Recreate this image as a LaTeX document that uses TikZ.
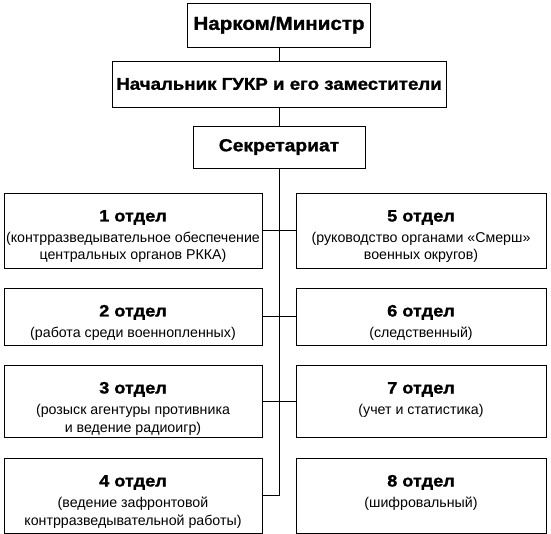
\documentclass[tikz,border=0pt]{standalone}
\usepackage{fontspec}
\setmainfont{Liberation Sans}
\newfontfamily\widefont[FakeStretch=1.1,BoldFeatures={FakeBold=1.2}]{Liberation Sans}
\newcommand\hdtop{\widefont\bfseries\fontsize{18.7}{22}\selectfont}
\newcommand\hdmid{\widefont\bfseries\fontsize{17}{20}\selectfont}
\newcommand\hdd{\widefont\bfseries\fontsize{16.5}{20}\selectfont}
\newcommand\subtx{\normalfont\fontsize{14.2}{17.5}\selectfont}
\newcommand\dtext[3]{\parbox[c][#1][t]{#2}{\centering\rule{0pt}{28.5pt}#3\par}}
\begin{document}
\begin{tikzpicture}[x=1pt,y=-1pt,
  box/.style={draw=black,line width=0.9pt,inner sep=0pt,fill=white},
  link/.style={draw=black,line width=0.9pt}]
\useasboundingbox[fill=white] (0,0) rectangle (551,534);
% top chain
\node[box,minimum width=183pt,minimum height=44pt] (nar) at (279,25) {\hdtop Нарком/Министр};
\node[box,minimum width=334pt,minimum height=46pt] (gukr) at (279,84) {\hdmid Начальник ГУКР и его заместители};
\node[box,minimum width=172pt,minimum height=42pt] (sec) at (279,147) {\hdmid\fontsize{17.5}{20}\selectfont Секретариат};
% left departments
\node[box] (d1) at (133,230.5) {\dtext{75pt}{258pt}{\hdd 1 отдел\\[3.5pt]\subtx (контрразведывательное обеспечение\\центральных органов РККА)}};
\node[box] (d2) at (133,316.5) {\dtext{57pt}{258pt}{\hdd 2 отдел\\[3.5pt]\subtx (работа среди военнопленных)}};
\node[box] (d3) at (133,401) {\dtext{72pt}{258pt}{\hdd 3 отдел\\[3.5pt]\subtx (розыск агентуры противника\\и ведение радиоигр)}};
\node[box] (d4) at (133,495.5) {\dtext{75pt}{258pt}{\hdd 4 отдел\\[3.5pt]\subtx (ведение зафронтовой\\контрразведывательной работы)}};
% right departments
\node[box] (d5) at (421,230.5) {\dtext{75pt}{250pt}{\hdd 5 отдел\\[3.5pt]\subtx (руководство органами «Смерш»\\военных округов)}};
\node[box] (d6) at (421,316.5) {\dtext{57pt}{250pt}{\hdd 6 отдел\\[3.5pt]\subtx (следственный)}};
\node[box] (d7) at (421,401) {\dtext{72pt}{250pt}{\hdd 7 отдел\\[3.5pt]\subtx (учет и статистика)}};
\node[box] (d8) at (421,495.5) {\dtext{75pt}{250pt}{\hdd 8 отдел\\[3.5pt]\subtx (шифровальный)}};
% connectors
\draw[link] (nar) -- (gukr);
\draw[link] (gukr) -- (sec);
\draw[link] (sec.south) -- (sec.south |- d4.east);
\draw[link] (d1.east) -- (d5.west);
\draw[link] (d2.east) -- (d6.west);
\draw[link] (d3.east) -- (d7.west);
\draw[link] (d4.east) -- (sec.south |- d4.east);
\end{tikzpicture}
\end{document}
